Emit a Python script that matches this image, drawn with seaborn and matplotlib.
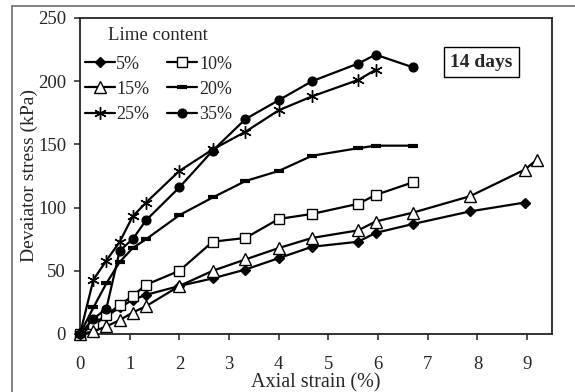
import matplotlib
matplotlib.use("Agg")
import matplotlib.pyplot as plt
import seaborn as sns
import pandas as pd
from matplotlib.lines import Line2D

sns.set_theme(style="white")
plt.rcParams["font.family"] = ["Liberation Serif", "DejaVu Serif"]

# Axial strain (%) at each reading
strain_base = [0, 0.27, 0.53, 0.8, 1.06, 1.33, 2.0, 2.67, 3.33, 4.0, 4.67, 5.6, 5.95, 6.7]
strain_5 = strain_base + [7.85, 8.95]
strain_10 = strain_base
strain_15 = strain_base + [7.85, 8.95, 9.2]
strain_20 = strain_base
strain_25 = strain_base[:13]
strain_35 = strain_base

# Deviator stress (kPa) for each lime content
stress_5 = [0, 7, 14, 21, 27, 31, 38, 44, 51, 60, 69, 73, 80, 87, 97, 104]
stress_10 = [0, 8, 15, 23, 30, 39, 50, 73, 76, 91, 95, 103, 110, 120]
stress_15 = [0, 2, 6, 11, 17, 22, 38, 50, 59, 68, 76, 82, 89, 96, 109, 130, 138]
stress_20 = [0, 21, 40, 57, 68, 75, 94, 108, 121, 129, 141, 147, 149, 149]
stress_25 = [0, 43, 58, 73, 93, 104, 129, 146, 160, 177, 188, 201, 209]
stress_35 = [0, 12, 20, 66, 75, 90, 116, 145, 170, 185, 200, 214, 221, 211]

labels = ["5%", "10%", "15%", "20%", "25%", "35%"]
strains = [strain_5, strain_10, strain_15, strain_20, strain_25, strain_35]
stresses = [stress_5, stress_10, stress_15, stress_20, stress_25, stress_35]

frames = []
for lab, sx, sy in zip(labels, strains, stresses):
    frames.append(pd.DataFrame({"strain": sx, "stress": sy, "lime": lab}))
df = pd.concat(frames, ignore_index=True)

marker_styles = {
    "5%": dict(marker="D", ms=4.8, mfc="black", mec="black", mew=1),
    "10%": dict(marker="s", ms=6.8, mfc="white", mec="black", mew=1),
    "15%": dict(marker="^", ms=8, mfc="white", mec="black", mew=1),
    "20%": dict(marker="_", ms=7.5, mfc="black", mec="black", mew=3),
    "25%": dict(marker=(6, 2, 0), ms=9, mfc="black", mec="black", mew=1),
    "35%": dict(marker="o", ms=6.3, mfc="black", mec="black", mew=1),
}

fig = plt.figure(figsize=(5.75, 3.92), dpi=100)
ax = fig.add_axes([80 / 575, 1 - 334 / 392, (552 - 80) / 575, (334 - 18) / 392])

for lab in labels:
    sub = df[df["lime"] == lab]
    sns.lineplot(data=sub, x="strain", y="stress", ax=ax, color="black",
                 linewidth=1.6, estimator=None, sort=False, label=lab,
                 clip_on=False, zorder=3, **marker_styles[lab])

ax.set_xlim(0, 9.5)
ax.set_ylim(0, 250)
ax.set_xticks(range(0, 10))
ax.set_yticks(range(0, 251, 50))
ax.tick_params(axis="x", direction="out", length=4, width=1.2, pad=11.5,
               labelsize=13.5, color="#333333", bottom=True)
ax.tick_params(axis="y", direction="out", length=4, width=1.2, pad=6,
               labelsize=13.5, color="#333333", left=True)
for sp in ax.spines.values():
    sp.set_color("#222222")
    sp.set_linewidth(1.3)
ax.set_facecolor("white")

ax.set_xlabel("Axial strain (%)", fontsize=14.5, labelpad=0.5)
ax.set_ylabel("Devaiator stress (kPa)", fontsize=14, labelpad=0)

# legend laid out row-wise in two columns
handles, labs = ax.get_legend_handles_labels()
order = [0, 2, 4, 1, 3, 5]
leg = ax.legend([handles[i] for i in order], [labs[i] for i in order],
                title="Lime content", ncol=2, frameon=False,
                loc="upper left", bbox_to_anchor=(0.01, 0.97),
                fontsize=13, title_fontsize=13.5,
                handlelength=1.65, handletextpad=0.1, columnspacing=1.0,
                labelspacing=0.45, borderaxespad=0, borderpad=0)
leg._legend_box.align = "center"
leg._legend_box.sep = 8

ax.text(0.85, 0.86, "14 days", transform=ax.transAxes, fontsize=14,
        fontweight="bold", ha="center", va="center",
        bbox=dict(boxstyle="square,pad=0.33", fc="white", ec="black", lw=1))

# outer frame lines along the top and left
fig.add_artist(Line2D([12 / 575, 12 / 575], [0, 1 - 6 / 392],
                      transform=fig.transFigure, color="#777777", lw=1.3))
fig.add_artist(Line2D([12 / 575, 1], [1 - 6 / 392, 1 - 6 / 392],
                      transform=fig.transFigure, color="#777777", lw=1.3))

fig.savefig("out.png", dpi=100, facecolor="white")
